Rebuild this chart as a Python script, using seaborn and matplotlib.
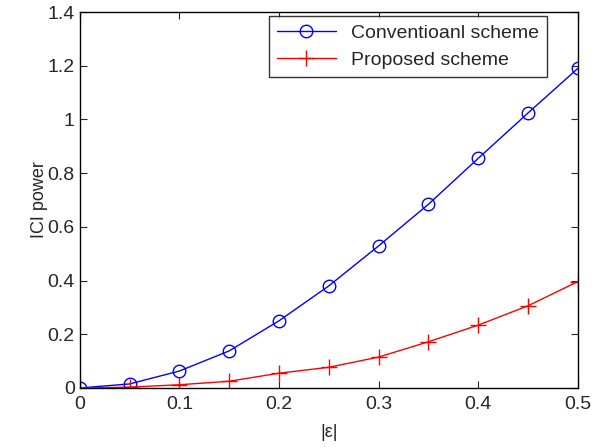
import numpy as np
import pandas as pd
import seaborn as sns
import matplotlib.pyplot as plt

# === Data ===
eps = [0, 0.05, 0.1, 0.15, 0.2, 0.25, 0.3, 0.35, 0.4, 0.45, 0.5]
conventional = [0, 0.015, 0.063, 0.138, 0.25, 0.38, 0.529, 0.684, 0.855, 1.024, 1.19]
proposed = [0, 0.003, 0.012, 0.025, 0.055, 0.077, 0.115, 0.172, 0.234, 0.306, 0.396]
series_names = ["Conventioanl scheme", "Proposed scheme"]

sns.set_style("ticks")
plt.rcParams["font.family"] = ["Liberation Sans", "DejaVu Sans"]

fig = plt.figure(figsize=(5.95, 4.48), dpi=100)
ax = fig.add_axes([0.134, 0.134, 0.837, 0.839])

sns.lineplot(x=eps, y=conventional, ax=ax, color="#0000ff", marker="o", markersize=9,
             markerfacecolor="none", markeredgecolor="#0000ff", markeredgewidth=1,
             linewidth=1, label=series_names[0])
sns.lineplot(x=eps, y=proposed, ax=ax, color="#ff0000", marker="+", markersize=12,
             markeredgecolor="#ff0000", markeredgewidth=1, linewidth=1,
             label=series_names[1])

ax.set_xlim(0, 0.5)
ax.set_ylim(0, 1.4)
ax.set_xticks(np.arange(0, 0.51, 0.1))
ax.set_xticklabels(["0", "0.1", "0.2", "0.3", "0.4", "0.5"])
ax.set_yticks(np.arange(0, 1.41, 0.2))
ax.set_yticklabels(["0", "0.2", "0.4", "0.6", "0.8", "1", "1.2", "1.4"])
ax.tick_params(direction="in", top=True, right=True, labelsize=14, length=5, width=0.8)
ax.tick_params(axis="x", pad=6)
for s in ax.spines.values():
    s.set_linewidth(1)
    s.set_color("black")
ax.set_xlabel("|ε|", fontsize=13, labelpad=8)
ax.set_ylabel("ICI power", fontsize=13, labelpad=0)

leg = ax.legend(loc="upper right", bbox_to_anchor=(0.938, 0.989), fontsize=14,
                frameon=True, fancybox=False, edgecolor="black", borderaxespad=0,
                handlelength=3, labelspacing=0.5)
leg.get_frame().set_linewidth(1)

plt.savefig("out.png", dpi=100)
